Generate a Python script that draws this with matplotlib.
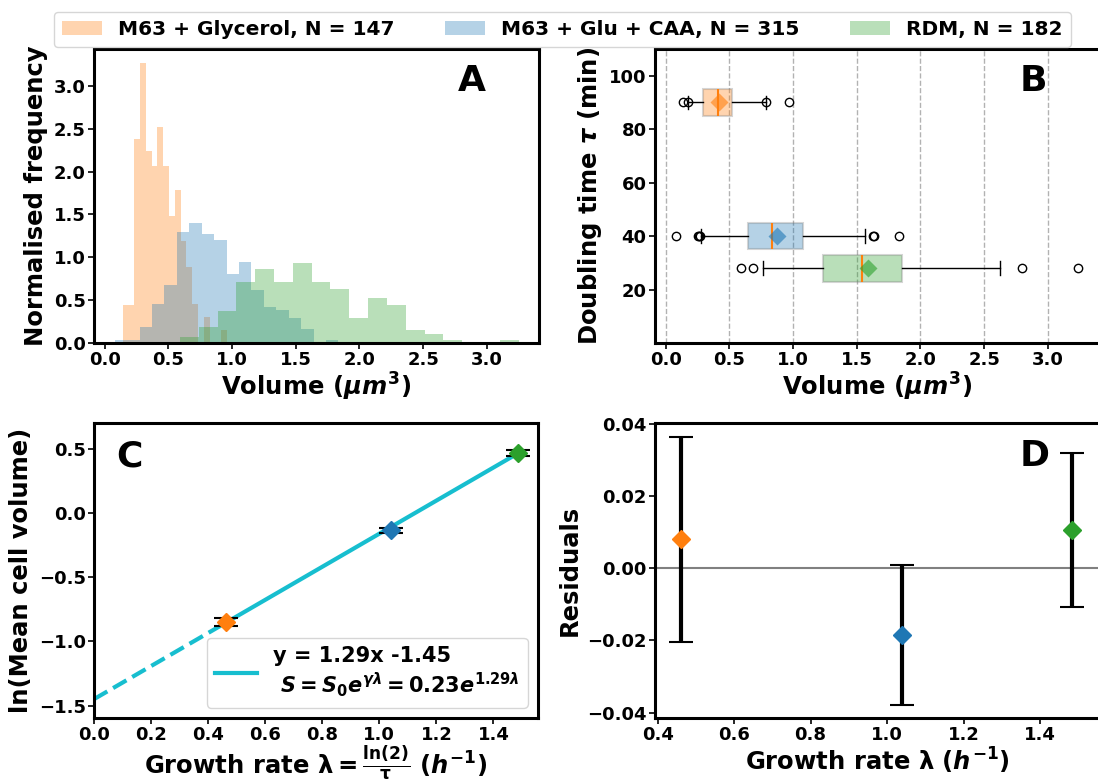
import numpy as np
import matplotlib
matplotlib.use('Agg')
import matplotlib.pyplot as plt

plt.rcParams['font.family'] = ['DejaVu Sans']
plt.rcParams['font.weight'] = 'bold'
plt.rcParams['axes.labelweight'] = 'bold'
plt.rcParams['mathtext.fontset'] = 'custom'
plt.rcParams['mathtext.rm'] = 'DejaVu Sans:bold'
plt.rcParams['mathtext.it'] = 'DejaVu Sans:italic:bold'
plt.rcParams['mathtext.bf'] = 'DejaVu Sans:bold'

# media, sample sizes, colours
media = ['M63 + Glycerol', 'M63 + Glu + CAA', 'RDM']
n_cells = [147, 315, 182]
colors = ['tab:orange', 'tab:blue', 'tab:green']

# panel A: normalised histograms (bin range and heights)
gly_range = (0.139, 0.960)
gly_heights = [0.44, 0.44, 2.38, 3.27, 2.24, 2.07, 2.52, 2.07, 1.48, 1.78,
               1.19, 0.89, 0.45, 0.0, 0.30, 0.0, 0.0, 0.15]
glu_range = (0.078, 1.835)
glu_heights = [0.03, 0.03, 0.19, 0.45, 0.68, 1.30, 1.40, 1.27, 1.20, 0.81,
               0.94, 0.62, 0.42, 0.39, 0.29, 0.16, 0.0, 0.03]
rdm_range = (0.59, 3.25)
rdm_heights = [0.07, 0.19, 0.37, 0.71, 0.86, 0.71, 0.93, 0.71, 0.63, 0.29,
               0.52, 0.44, 0.15, 0.11, 0.04, 0.0, 0.0, 0.04]

# panel B: box plot stats per medium (volume, um^3)
doubling_time = [90, 40, 28]
box_q1 = [0.295, 0.648, 1.231]
box_med = [0.413, 0.831, 1.542]
box_q3 = [0.520, 1.077, 1.855]
box_mean = [0.42, 0.873, 1.591]
whis_lo = [0.178, 0.274, 0.760]
whis_hi = [0.784, 1.565, 2.621]
fliers = [[0.131, 0.172, 0.790, 0.964],
          [0.078, 0.250, 0.262, 0.270, 1.625, 1.632, 1.829],
          [0.592, 0.687, 2.800, 3.235]]

# panel C / D
growth_rate = [0.462, 1.040, 1.485]
ln_mean_vol = [-0.848, -0.133, 0.469]
ln_err = [0.0284, 0.0195, 0.0213]
slope, intercept = 1.29, -1.45
residuals = [0.008, -0.0185, 0.0105]

W, H = 1098, 784
fig = plt.figure(figsize=(W / 100, H / 100), dpi=100)

def box(l, b, r, t):
    return [l / W, 1 - b / H, (r - l) / W, (b - t) / H]

axA = fig.add_axes(box(94, 343, 539, 49))
axB = fig.add_axes(box(655, 343, 1100, 49))
axC = fig.add_axes(box(94, 718, 538, 423))
axD = fig.add_axes(box(655, 718, 1100, 423))

lab_fs = 17.5
tick_fs = 13
let_fs = 26

for ax in [axA, axB, axC, axD]:
    for sp in ax.spines.values():
        sp.set_linewidth(2.2)
    ax.tick_params(labelsize=tick_fs, width=1.2, length=4, pad=2)

# ---- A
handles = []
for rng, hts, c, m, n in zip([gly_range, glu_range, rdm_range],
                             [gly_heights, glu_heights, rdm_heights],
                             colors, media, n_cells):
    edges = np.linspace(rng[0], rng[1], len(hts) + 1)
    bars = axA.bar(edges[:-1], hts, width=np.diff(edges), align='edge',
                   color=c, alpha=0.33, label=f'{m}, N = {n}')
    handles.append(bars)
axA.set_xlim(-0.085, 3.41)
axA.set_ylim(0, 3.43)
axA.set_xlabel(r'Volume ($\mu m^3$)', fontsize=lab_fs, labelpad=1)
axA.set_ylabel('Normalised frequency', fontsize=lab_fs)
axA.text(0.85, 0.89, 'A', transform=axA.transAxes, fontsize=let_fs,
         fontweight='bold', ha='center', va='center')

# ---- B
stats = []
for i in range(3):
    stats.append(dict(med=box_med[i], q1=box_q1[i], q3=box_q3[i],
                      whislo=whis_lo[i], whishi=whis_hi[i],
                      mean=box_mean[i], fliers=fliers[i]))
bp = axB.bxp(stats, positions=doubling_time, widths=10, vert=False,
             patch_artist=True, showmeans=True, manage_ticks=False,
             medianprops=dict(color='tab:orange', lw=1.5),
             flierprops=dict(marker='o', mfc='none', mec='black', ms=6))
for patch, c in zip(bp['boxes'], colors):
    patch.set_facecolor(c)
    patch.set_edgecolor('grey')
    patch.set_alpha(0.33)
    patch.set_linewidth(1.5)
for mn, c in zip(bp['means'], colors):
    mn.set(marker='D', markerfacecolor=c, markeredgecolor='none', markersize=9, alpha=0.6)
axB.set_xlim(-0.085, 3.41)
axB.set_ylim(0, 110)
axB.set_yticks([20, 40, 60, 80, 100])
axB.grid(axis='x', ls='--', color='grey', alpha=0.6, lw=1)
axB.set_axisbelow(True)
axB.set_xlabel(r'Volume ($\mu m^3$)', fontsize=lab_fs, labelpad=1)
axB.set_ylabel(r'Doubling time $\tau$ (min)', fontsize=lab_fs)
axB.text(0.85, 0.89, 'B', transform=axB.transAxes, fontsize=let_fs,
         fontweight='bold', ha='center', va='center')

# ---- C
x_fit = np.array([growth_rate[0], growth_rate[-1]])
x_ext = np.array([0, growth_rate[0]])
axC.plot(x_fit, slope * x_fit + intercept, color='tab:cyan', lw=3,
         label='y = %.2fx %.2f \n $S = S_0e^{\\gamma \\lambda} = %.2fe^{%.2f\\lambda}$'
         % (slope, intercept, np.exp(intercept), slope))
axC.plot(x_ext, slope * x_ext + intercept, color='tab:cyan', lw=3, ls='--')
for x, y, e, c in zip(growth_rate, ln_mean_vol, ln_err, colors):
    axC.errorbar(x, y, yerr=e, fmt='D', color=c, ms=9, ecolor='black',
                 elinewidth=1, capsize=8.5, capthick=1.5)
axC.set_xlim(0, 1.556)
axC.set_ylim(-1.597, 0.703)
axC.set_xticks(np.arange(0, 1.41, 0.2))
axC.set_xlabel('Growth rate λ$=\\frac{\\mathrm{ln(2)}}{\\mathrm{τ}}$ ($h^{-1}$)',
               fontsize=lab_fs, labelpad=0)
axC.set_ylabel('ln(Mean cell volume)', fontsize=lab_fs)
axC.legend(loc='lower right', fontsize=15)
axC.text(0.08, 0.887, 'C', transform=axC.transAxes, fontsize=let_fs,
         fontweight='bold', ha='center', va='center')

# ---- D
axD.axhline(0, color='grey', lw=1.5)
for x, r, e, c in zip(growth_rate, residuals, ln_err, colors):
    axD.errorbar(x, r, yerr=e, fmt='D', color=c, ms=9, ecolor='black',
                 elinewidth=3, capsize=8.5, capthick=1.5)
axD.set_xlim(0.393, 1.557)
axD.set_ylim(-0.0415, 0.0402)
axD.set_xticks(np.arange(0.4, 1.41, 0.2))
axD.set_xlabel('Growth rate λ ($h^{-1}$)', fontsize=lab_fs, labelpad=1)
axD.set_ylabel('Residuals', fontsize=lab_fs)
axD.text(0.852, 0.887, 'D', transform=axD.transAxes, fontsize=let_fs,
         fontweight='bold', ha='center', va='center')

fig.legend(handles=handles, loc='upper center', ncol=3, fontsize=14.5,
           bbox_to_anchor=(0.512, 0.998), columnspacing=2.5)

fig.savefig('out.png', dpi=100)
